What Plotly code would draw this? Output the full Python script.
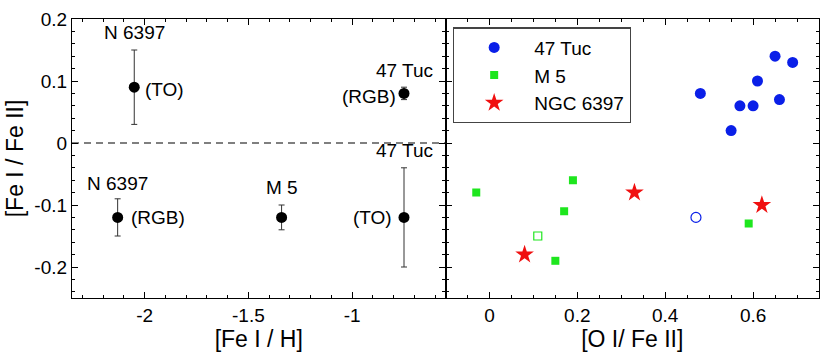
import plotly.graph_objects as go
from plotly.subplots import make_subplots

# left panel: [Fe I/H] vs [Fe I/Fe II] for cluster means
feh = [-2.05, -0.75, -2.13, -1.34, -0.75]
fe_ratio = [0.09, 0.08, -0.12, -0.12, -0.12]
fe_ratio_err = [0.06, 0.01, 0.03, 0.02, 0.08]
feh_err = [0.02, 0.02, 0.02, 0.02, 0.0]

# right panel: [O I/Fe II] vs [Fe I/Fe II] for single stars
tuc_ofe = [0.48, 0.65, 0.69, 0.61, 0.57, 0.60, 0.66, 0.55]
tuc_fe = [0.08, 0.14, 0.13, 0.10, 0.06, 0.06, 0.07, 0.02]
tuc_open_ofe = [0.47]
tuc_open_fe = [-0.12]
m5_ofe = [-0.03, 0.19, 0.17, 0.15, 0.59]
m5_fe = [-0.08, -0.06, -0.11, -0.19, -0.13]
m5_open_ofe = [0.11]
m5_open_fe = [-0.15]
ngc_ofe = [0.33, 0.62, 0.08]
ngc_fe = [-0.08, -0.10, -0.18]

# tick labels (plain hyphen minus, as in the original)
y_ticks = [-0.2, -0.1, 0, 0.1, 0.2]
y_ticktext = ['-0.2', '-0.1', '0', '0.1', '0.2']
feh_ticks = [-2, -1.5, -1]
feh_ticktext = ['-2', '-1.5', '-1']
ofe_ticks = [0, 0.2, 0.4, 0.6]
ofe_ticktext = ['0', '0.2', '0.4', '0.6']

font = 'Liberation Sans, Arial, sans-serif'
fs = 19

fig = make_subplots(rows=1, cols=2, horizontal_spacing=0)

fig.add_trace(go.Scatter(
    x=feh, y=fe_ratio, mode='markers',
    marker=dict(color='black', size=11),
    error_y=dict(type='data', array=fe_ratio_err, color='#333', thickness=1, width=3),
    error_x=dict(type='data', array=feh_err, color='#333', thickness=1, width=2),
    showlegend=False), row=1, col=1)

fig.add_trace(go.Scatter(x=tuc_ofe, y=tuc_fe, mode='markers', name='47 Tuc',
                         marker=dict(color='#0a1fe8', size=11)), row=1, col=2)
fig.add_trace(go.Scatter(x=m5_ofe, y=m5_fe, mode='markers', name='M 5',
                         marker=dict(color='#1ee61e', size=8, symbol='square')), row=1, col=2)
fig.add_trace(go.Scatter(x=ngc_ofe, y=ngc_fe, mode='markers', name='NGC 6397',
                         marker=dict(color='#f01010', size=14, symbol='star')), row=1, col=2)
fig.add_trace(go.Scatter(x=tuc_open_ofe, y=tuc_open_fe, mode='markers', showlegend=False,
                         marker=dict(color='#0a1fe8', size=10, symbol='circle-open',
                                     line=dict(width=1.2))), row=1, col=2)
fig.add_trace(go.Scatter(x=m5_open_ofe, y=m5_open_fe, mode='markers', showlegend=False,
                         marker=dict(color='#1ee61e', size=8, symbol='square-open',
                                     line=dict(width=1.2))), row=1, col=2)

# dashed zero line on the left panel
fig.add_shape(type='line', xref='x', yref='y', x0=-2.35, x1=-0.55, y0=0, y1=0,
              line=dict(color='black', width=1.2, dash='7px,5px'))

labels = [
    (-2.05, 0.178, 'N 6397', 'center'),
    (-2.01, 0.087, '(TO)', 'left'),
    (-0.6, 0.117, '47 Tuc', 'right'),
    (-0.78, 0.075, '(RGB)', 'right'),
    (-0.6, -0.012, '47 Tuc', 'right'),
    (-2.13, -0.065, 'N 6397', 'center'),
    (-2.075, -0.12, '(RGB)', 'left'),
    (-1.34, -0.072, 'M 5', 'center'),
    (-0.80, -0.12, '(TO)', 'right'),
]
for x, y, t, anc in labels:
    fig.add_annotation(x=x, y=y, text=t, showarrow=False, xref='x', yref='y',
                       xanchor=anc, yanchor='middle', font=dict(size=fs, color='black', family=font))

axis_common = dict(showline=True, linecolor='black', linewidth=1.2, mirror='allticks',
                   ticks='inside', ticklen=6, tickcolor='black', showgrid=False, zeroline=False,
                   minor=dict(ticks='inside', ticklen=3, tickcolor='black'))

fig.update_xaxes(axis_common, range=[-2.35, -0.55], tickvals=feh_ticks, ticktext=feh_ticktext,
                 minor_dtick=0.1, minor_tick0=0, title_text='[Fe I / H]', row=1, col=1)
fig.update_xaxes(axis_common, range=[-0.1, 0.75], tickvals=ofe_ticks, ticktext=ofe_ticktext,
                 minor_dtick=0.05, minor_tick0=0, title_text='[O I/ Fe II]', row=1, col=2)
fig.update_yaxes(axis_common, range=[-0.25, 0.2], tickvals=y_ticks, ticktext=y_ticktext,
                 minor_dtick=0.02, minor_tick0=0, title_text='[Fe I / Fe II]', row=1, col=1)
fig.update_yaxes(axis_common, range=[-0.25, 0.2], tickvals=y_ticks, ticktext=y_ticktext,
                 minor_dtick=0.02, minor_tick0=0, showticklabels=False, row=1, col=2)
fig.update_xaxes(title_standoff=2, automargin=False)
fig.update_yaxes(title_standoff=4, automargin=False)

fig.update_layout(
    width=830, height=352,
    margin=dict(l=72, r=11, t=19, b=54),
    plot_bgcolor='white', paper_bgcolor='white',
    font=dict(family=font, size=fs, color='black'),
    legend=dict(x=0.51, y=0.97, xanchor='left', yanchor='top',
                bordercolor='#444', borderwidth=1.2, bgcolor='white',
                itemwidth=70, font=dict(size=fs), tracegroupgap=0),
)

# drop the default 8px body margin so the figure fills the window exactly
fig.write_html('out.html', config={'displayModeBar': False},
               post_script="document.body.style.margin='0';")
